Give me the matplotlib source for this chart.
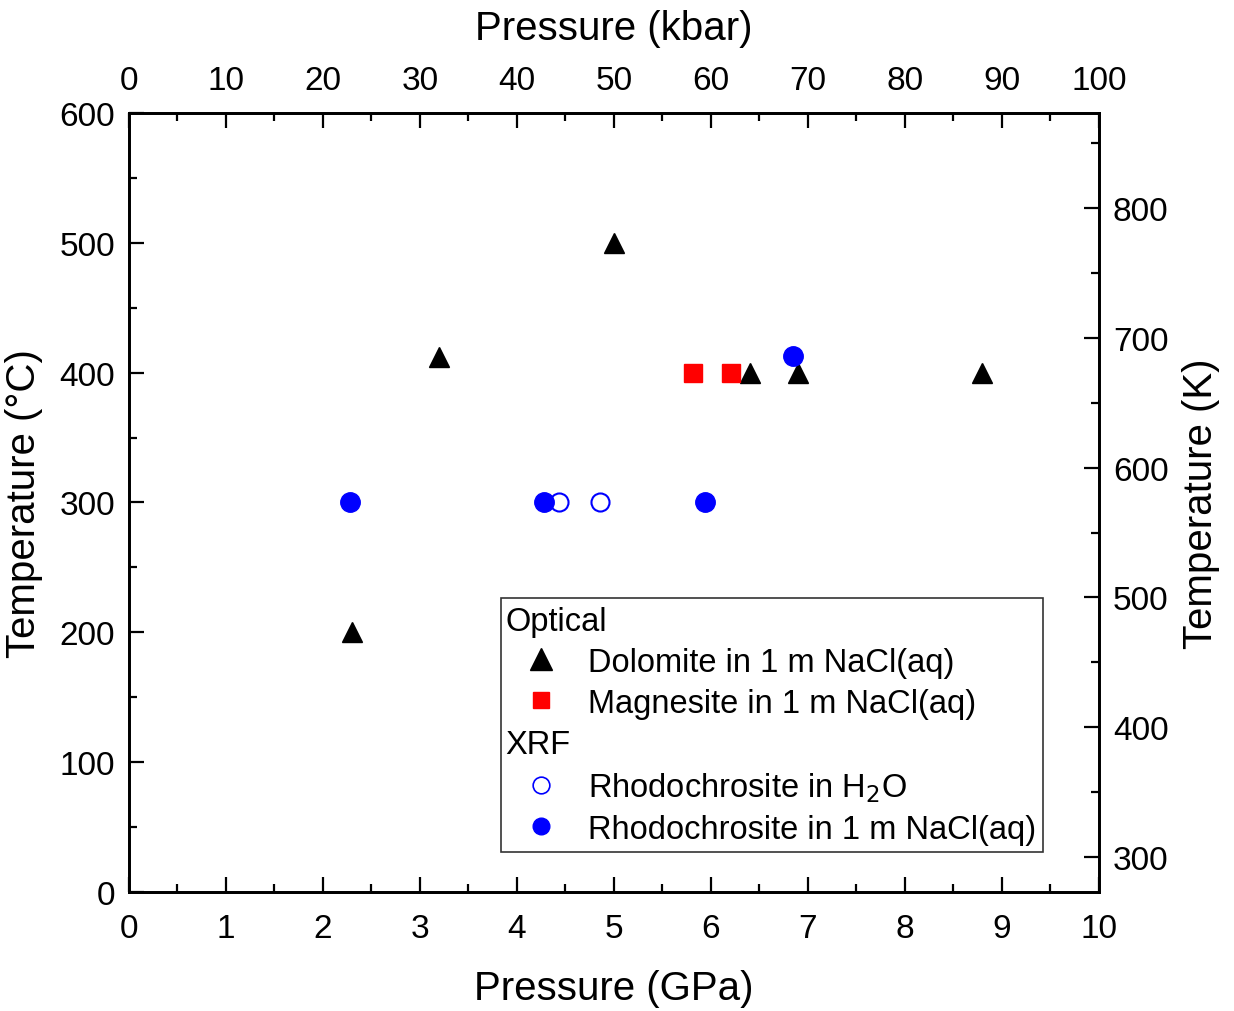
import matplotlib
matplotlib.use("Agg")
import matplotlib.pyplot as plt
from matplotlib.ticker import MultipleLocator
from matplotlib.lines import Line2D

plt.rcParams['font.family'] = ['Liberation Sans', 'DejaVu Sans']

# Optical
dolomite_p = [2.3, 3.2, 5.0, 6.4, 6.9, 8.8]
dolomite_t = [200, 412, 500, 400, 400, 400]
magnesite_p = [5.82, 6.21]
magnesite_t = [400, 400]

# XRF
rhodo_h2o_p = [4.43, 4.86]
rhodo_h2o_t = [300, 300]
rhodo_nacl_p = [2.28, 4.28, 5.94, 6.85]
rhodo_nacl_t = [300, 300, 300, 413]

fig = plt.figure(figsize=(12.34, 10.12), dpi=100)
ax = fig.add_axes([0.1045, 0.1176, 0.786, 0.7698])

ax.plot(dolomite_p, dolomite_t, '^', color='black', ms=15, ls='none')
ax.plot(magnesite_p, magnesite_t, 's', color='red', ms=13, ls='none')
ax.plot(rhodo_h2o_p, rhodo_h2o_t, 'o', mfc='white', mec='blue', mew=1.5, ms=13, ls='none')
ax.plot(rhodo_nacl_p, rhodo_nacl_t, 'o', color='blue', ms=14, ls='none')

ax.set_xlim(0, 10)
ax.set_ylim(0, 600)
ax.xaxis.set_major_locator(MultipleLocator(1))
ax.xaxis.set_minor_locator(MultipleLocator(0.5))
ax.yaxis.set_major_locator(MultipleLocator(100))
ax.yaxis.set_minor_locator(MultipleLocator(50))
ax.set_xlabel('Pressure (GPa)', fontsize=29, labelpad=18)
ax.set_ylabel('Temperature (\u00b0C)', fontsize=29, labelpad=12)

# top axis in kbar
top = ax.twiny()
top.set_xlim(0, 100)
top.xaxis.set_major_locator(MultipleLocator(10))
top.xaxis.set_minor_locator(MultipleLocator(5))
top.set_xlabel('Pressure (kbar)', fontsize=29, labelpad=19)

# right axis in K
right = ax.twinx()
right.set_ylim(273.15, 873.15)
right.yaxis.set_major_locator(MultipleLocator(100))
right.yaxis.set_minor_locator(MultipleLocator(50))
right.set_ylabel('Temperature (K)', fontsize=29, labelpad=10)

for a in (ax, top, right):
    for s in a.spines.values():
        s.set_linewidth(1.8)
    a.tick_params(which='major', direction='in', length=11, width=1.6,
                  labelsize=24, pad=10)
    a.tick_params(which='minor', direction='in', length=6, width=1.6)
ax.tick_params(axis='x', pad=15)
top.tick_params(axis='x', pad=12)
ax.tick_params(which='both', top=False, right=False)

blank = Line2D([], [], ls='none', marker='none')
handles = [
    blank,
    Line2D([], [], ls='none', marker='^', color='black', ms=16),
    Line2D([], [], ls='none', marker='s', color='red', ms=11),
    blank,
    Line2D([], [], ls='none', marker='o', mfc='white', mec='blue', mew=1.2, ms=12),
    Line2D([], [], ls='none', marker='o', color='blue', ms=12),
]
labels = ['Optical', 'Dolomite in 1 m NaCl(aq)', 'Magnesite in 1 m NaCl(aq)',
          'XRF', 'Rhodochrosite in H$_2$O', 'Rhodochrosite in 1 m NaCl(aq)']
leg = right.legend(handles, labels, loc='lower left', bbox_to_anchor=(0.3835, 0.0513),
                   fontsize=23.5, frameon=True, fancybox=False, edgecolor='black',
                   handlelength=2.0, handletextpad=0.44, borderpad=0.22,
                   labelspacing=0.31, borderaxespad=0)
leg.get_frame().set_linewidth(1.2)
texts = leg.get_texts()
for i in (0, 3):
    texts[i].set_x(-82)

fig.savefig('out.png', dpi=100)
